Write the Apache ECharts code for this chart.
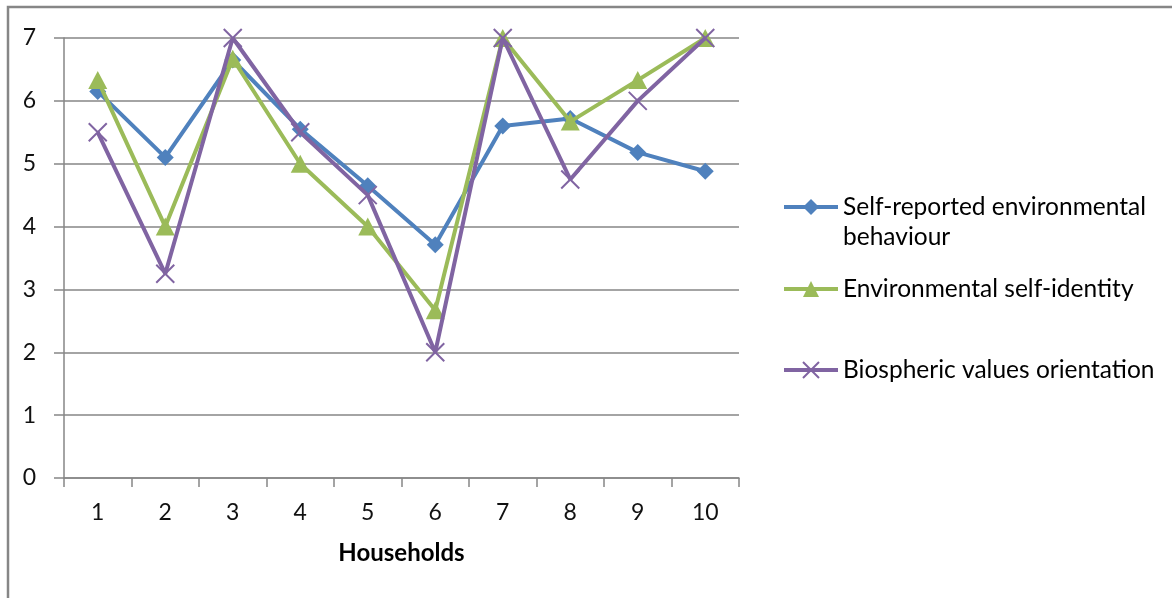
<!DOCTYPE html>
<html>
<head>
<meta charset="utf-8">
<script src="https://cdn.jsdelivr.net/npm/echarts@6/dist/echarts.min.js"></script>
<style>
  html, body { margin: 0; padding: 0; background: #fff; }
  #chart { width: 1172px; height: 598px; }
</style>
</head>
<body>
<div id="chart"></div>
<script>
// Households surveyed (x-axis categories)
var households = ['1', '2', '3', '4', '5', '6', '7', '8', '9', '10'];

// Mean scores per household
var selfReportedBehaviour = [6.15, 5.1, 6.65, 5.55, 4.65, 3.71, 5.6, 5.72, 5.18, 4.88];
var selfIdentity = [6.33, 4.0, 6.67, 5.0, 4.0, 2.67, 7.0, 5.67, 6.33, 7.0];
var biosphericValues = [5.5, 3.25, 7.0, 5.5, 4.5, 2.0, 7.0, 4.75, 6.0, 7.0];

// Series names
var seriesNames = [
  'Self-reported environmental behaviour',
  'Environmental self-identity',
  'Biospheric values orientation'
];

var FONT = 'Lato, "Liberation Sans", sans-serif';
var GRAY = '#868686';
var BLUE = '#4F81BD', GREEN = '#9BBB59', PURPLE = '#8064A2';
var CROSS = 'path://M0,0L20,20M20,0L0,20';

function legendAt(name, top, extra) {
  return Object.assign({
    data: [name],
    left: 782,
    top: top,
    padding: 0,
    orient: 'vertical',
    itemWidth: 54,
    itemHeight: 20,
    itemGap: 0,
    selectedMode: false,
    lineStyle: { width: 4 },
    textStyle: { fontFamily: FONT, fontSize: 24.5, color: '#000', lineHeight: 30 }
  }, extra || {});
}

var chart = echarts.init(document.getElementById('chart'), null, { renderer: 'canvas' });

chart.setOption({
  animation: false,
  backgroundColor: '#fff',
  graphic: [{
    type: 'rect',
    shape: { x: 8, y: 7, width: 2000, height: 2000 },
    style: { fill: 'none', stroke: GRAY, lineWidth: 2.5 },
    silent: true,
    z: -10
  }],
  grid: { left: 64, right: 433, top: 38, bottom: 120 },
  legend: [
    // the wrapped label keeps its marker on the first line
    legendAt(seriesNames[0], 162, {
      formatter: function () { return '\nSelf-reported environmental\nbehaviour'; }
    }),
    legendAt(seriesNames[1], 274),
    legendAt(seriesNames[2], 355)
  ],
  xAxis: {
    type: 'category',
    data: households,
    boundaryGap: true,
    name: 'Households',
    nameLocation: 'middle',
    nameGap: 63,
    nameTextStyle: { fontFamily: FONT, fontSize: 24, fontWeight: 'bold', color: '#000' },
    axisLine: { show: true, lineStyle: { color: GRAY, width: 1.5 } },
    axisTick: { show: true, alignWithLabel: false, interval: 0, length: 9, lineStyle: { color: GRAY, width: 1.5 } },
    axisLabel: { fontFamily: FONT, fontSize: 23, color: '#111', margin: 23, interval: 0 },
    splitLine: { show: false }
  },
  yAxis: {
    type: 'value',
    min: 0,
    max: 7,
    interval: 1,
    axisLine: { show: true, lineStyle: { color: GRAY, width: 1.5 } },
    axisTick: { show: true, length: 10, lineStyle: { color: GRAY, width: 1.5 } },
    axisLabel: { fontFamily: FONT, fontSize: 23, color: '#111', margin: 28 },
    splitLine: { show: true, lineStyle: { color: GRAY, width: 1.5 } }
  },
  series: [
    {
      name: seriesNames[0],
      type: 'line',
      data: selfReportedBehaviour,
      symbol: 'diamond',
      symbolSize: 17,
      lineStyle: { color: BLUE, width: 4 },
      itemStyle: { color: BLUE },
      z: 2
    },
    {
      name: seriesNames[1],
      type: 'line',
      data: selfIdentity,
      symbol: 'triangle',
      symbolSize: [19, 18],
      lineStyle: { color: GREEN, width: 4 },
      itemStyle: { color: GREEN },
      z: 3
    },
    {
      name: seriesNames[2],
      type: 'line',
      data: biosphericValues,
      symbol: CROSS,
      symbolSize: 18,
      lineStyle: { color: PURPLE, width: 4 },
      itemStyle: { color: PURPLE, borderColor: PURPLE, borderWidth: 2 },
      z: 4
    }
  ]
});
</script>
</body>
</html>
